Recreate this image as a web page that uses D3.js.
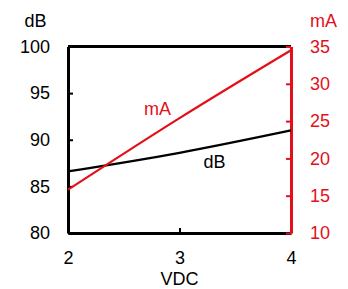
<!DOCTYPE html>
<html>
<head>
<meta charset="utf-8">
<script src="https://cdn.jsdelivr.net/npm/d3@7"></script>
<style>
  body { margin: 0; background: #fff; }
  text { font-family: "Liberation Sans", Arial, sans-serif; }
</style>
</head>
<body>
<div id="chart"></div>
<script>
// data
const vdc = [2, 3, 4];
const dB = [86.6, 88.6, 91.0];
const mA = [15.8, 25.4, 34.5];
const dbTicks = [80, 85, 90, 95, 100];
const maTicks = [10, 15, 20, 25, 30, 35];
const red = "#e3101b";
const fs = 18;

const margin = { top: 46.5, right: 57, bottom: 56, left: 68 },
  width = 348 - margin.left - margin.right,
  height = 289 - margin.top - margin.bottom;

const svg = d3.select("#chart")
  .append("svg")
  .attr("width", 348)
  .attr("height", 289)
  .append("g")
  .attr("transform", `translate(${margin.left},${margin.top})`);

const x = d3.scaleLinear().domain([2, 4]).range([0, width]);
const yL = d3.scaleLinear().domain([80, 100]).range([height, 0]);
const yR = d3.scaleLinear().domain([10, 35]).range([height, 0]);

// frame top
svg.append("line")
  .attr("x1", 0).attr("x2", width).attr("y1", 0).attr("y2", 0)
  .attr("stroke", "#000").attr("stroke-width", 3);

// bottom axis, ticks inward
const xAxis = svg.append("g")
  .attr("transform", `translate(0,${height})`)
  .call(d3.axisBottom(x).tickValues(vdc).tickFormat(d3.format("d")).tickSizeInner(-5).tickSizeOuter(0).tickPadding(18));
xAxis.select(".domain").attr("stroke-width", 3);
xAxis.selectAll(".tick line").attr("stroke-width", 2);
xAxis.selectAll("text").attr("font-size", fs).attr("fill", "#000");

// left axis
const lAxis = svg.append("g")
  .call(d3.axisLeft(yL).tickValues(dbTicks).tickSizeInner(-5).tickSizeOuter(0).tickPadding(18));
lAxis.select(".domain").attr("stroke-width", 3);
lAxis.selectAll(".tick line").attr("stroke-width", 2);
lAxis.selectAll("text").attr("font-size", fs).attr("fill", "#000");

// right axis (red)
const rAxis = svg.append("g")
  .attr("transform", `translate(${width},0)`)
  .call(d3.axisRight(yR).tickValues(maTicks).tickSizeInner(-5).tickSizeOuter(0).tickPadding(19));
rAxis.select(".domain").attr("stroke", red).attr("stroke-width", 3);
rAxis.selectAll(".tick line").attr("stroke", red).attr("stroke-width", 2);
rAxis.selectAll("text").attr("font-size", fs).attr("fill", red);

// series
svg.append("path")
  .datum(vdc.map((v, i) => [v, dB[i]]))
  .attr("fill", "none").attr("stroke", "#000").attr("stroke-width", 2.2)
  .attr("d", d3.line().x(d => x(d[0])).y(d => yL(d[1])).curve(d3.curveMonotoneX));

svg.append("path")
  .datum(vdc.map((v, i) => [v, mA[i]]))
  .attr("fill", "none").attr("stroke", red).attr("stroke-width", 2.2)
  .attr("d", d3.line().x(d => x(d[0])).y(d => yR(d[1])).curve(d3.curveMonotoneX));

// axis titles
svg.append("text").attr("x", -32.5).attr("y", 27 - margin.top)
  .attr("text-anchor", "middle").attr("font-size", fs).text("dB");
svg.append("text").attr("x", 323.5 - margin.left).attr("y", 27 - margin.top)
  .attr("text-anchor", "middle").attr("font-size", fs).attr("fill", red).text("mA");
svg.append("text").attr("x", x(3)).attr("y", 285 - margin.top)
  .attr("text-anchor", "middle").attr("font-size", fs).text("VDC");

// inline series labels
svg.append("text").attr("x", 157.5 - margin.left).attr("y", 115 - margin.top)
  .attr("text-anchor", "middle").attr("font-size", fs).attr("fill", red).text("mA");
svg.append("text").attr("x", 214.5 - margin.left).attr("y", 168 - margin.top)
  .attr("text-anchor", "middle").attr("font-size", fs).text("dB");
</script>
</body>
</html>
